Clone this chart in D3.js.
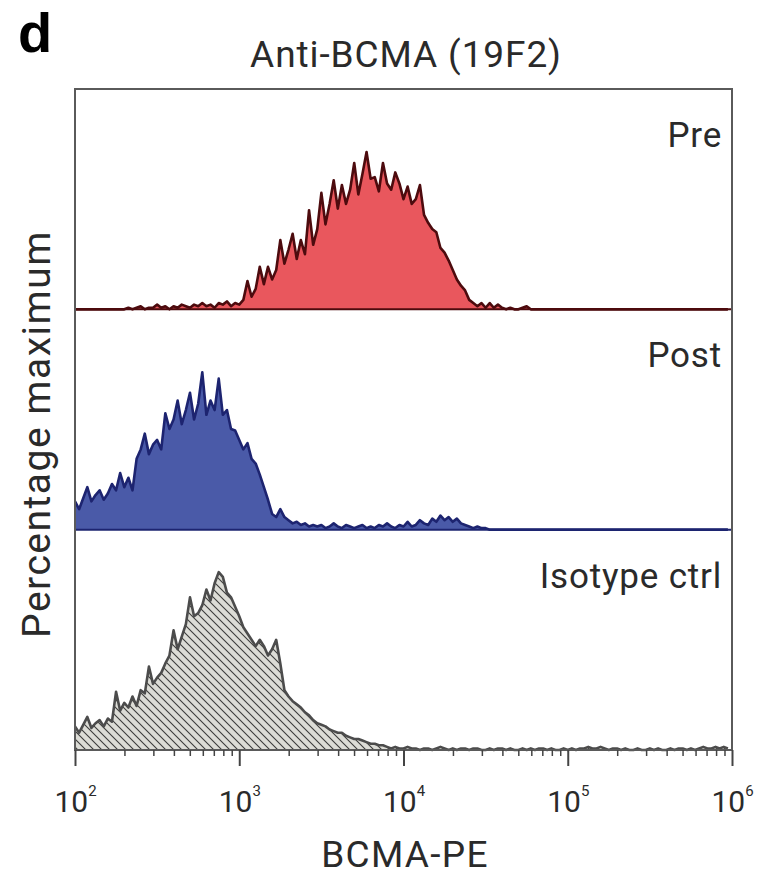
<!DOCTYPE html>
<html>
<head>
<meta charset="utf-8">
<script src="https://cdn.jsdelivr.net/npm/d3@7"></script>
<style>
  body { margin: 0; background: #fff; }
  text { font-family: Roboto, "Liberation Sans", sans-serif; fill: #2a2a2a; }
</style>
</head>
<body>
<div id="container"></div>
<script>
/* CONSTANTS AND GLOBALS */
const width = 762;
const height = 878;
const margin = { top: 89, right: 30, bottom: 128, left: 75 };

/* DATA (percentage of max, bins of 0.025 decade from 10^2) */
const panels = ["Pre", "Post", "Isotype ctrl"];
const xTicks = [1e2, 1e3, 1e4, 1e5, 1e6];
const xTickExp = ["2", "3", "4", "5", "6"];

const preValues = [
  0,0,0,0,0,0,0,0,0,0,0,0,0,
  1,0,1,2,0,1,1,3,1,2,0,2,1,3,2,1,3,2,4,2,3,1,4,3,5,2,4,3,
  6,18,8,13,27,16,27,19,25,44,29,38,48,32,44,35,63,41,51,74,54,67,82,64,79,67,
  76,93,73,86,100,83,84,75,93,80,76,87,80,70,78,67,70,79,60,55,51,49,39,36,31,25,
  19,15,12,6,4,2,4,1,4,1,3,1,0,1,0,0,1,2,
  0,0,0,0,0,0,0,0,0,0,0,0,0,0,0,0,0,0,0,0,0,0,0,0,0,
  0,0,0,0,0,0,0,0,0,0,0,0,0,0,0,0,0,0,0,0,0,0,0,0
];

const postValues = [
  18,13,20,27,18,22,25,19,23,29,25,36,27,33,25,45,51,61,48,54,57,51,74,64,70,82,
  67,76,87,70,80,100,73,82,76,96,73,76,64,63,57,51,55,45,42,35,27,19,10,8,13,8,
  6,4,5,3,4,2,3,
  2,3,1,2,4,2,1,3,2,1,2,3,1,2,1,3,2,4,2,1,3,2,5,2,3,6,4,3,7,5,9,6,8,5,7,4,3,2,1,2,1,1,0,
  0,0,0,0,0,0,0,0,0,0,0,0,0,0,0,0,0,0,0,0,0,0,0,0,0,0,0,0,0,
  0,0,0,0,0,0,0,0,0,0,0,0,0,0,0,0,0,0,0,0,0,0,0,0,0,0,0,0,0
];

const isoValues = [
  15,11,16,21,14,17,19,15,20,18,37,25,30,27,34,28,38,36,53,42,46,49,55,60,76,64,
  72,80,97,85,87,92,102,95,106,113,110,100,97,91,85,78,74,70,66,70,66,60,64,70,55,
  38,34,31,29,27,24,22,19,17,16,15,13,12,11,11,9,8,7,7,6,5,4,4,3,3,2,
  1,2,1,1,2,1,1,0,1,1,0,1,2,1,0,1,0,1,1,0,
  1,1,0,0,1,0,1,1,0,1, 0,0,1,0,1,0,1,1,0,1,
  0,0,1,0,1,0,1,1,2,1, 1,2,1,0,1,1,0,1,0,0,
  1,0,0,1,0,1,0,0,1,0, 1,1,0,1,0,1,2,1,1,2,
  1,2,1
];

const series = [preValues, postValues, isoValues];
const fills = ["#e9575d", "#4a5aa8", "url(#hatch)"];
const strokes = ["#4d0b0e", "#1d2470", "#4c4c4c"];

// bin positions along the log axis
const binLog = d3.range(160).map(i => 2 + i * 0.025);

/* SCALES */
const xScale = d3.scaleLog()
  .domain([1e2, 1e6])
  .range([margin.left, width - margin.right]);

const panelScale = d3.scaleBand()
  .domain(panels)
  .range([margin.top, height - margin.bottom])
  .padding(0);

/* HTML ELEMENTS */
const svg = d3.select("#container")
  .append("svg")
  .attr("width", width)
  .attr("height", height);

// hatch pattern for isotype
const defs = svg.append("defs");
const pat = defs.append("pattern")
  .attr("id", "hatch")
  .attr("patternUnits", "userSpaceOnUse")
  .attr("width", 8)
  .attr("height", 8);
pat.append("rect").attr("width", 8).attr("height", 8).attr("fill", "#dcdcd6");
pat.append("path")
  .attr("d", "M-2,6 L2,10 M0,0 L8,8 M6,-2 L10,2")
  .attr("stroke", "#3c3c3c")
  .attr("stroke-width", 1.1);

panels.forEach((name, k) => {
  const top = panelScale(name);
  const bottom = top + panelScale.bandwidth();
  const yScale = d3.scaleLinear().domain([0, 140]).range([bottom, top]);
  const pts = series[k].map((v, i) => ({ x: Math.pow(10, binLog[i]), y: v }));

  const area = d3.area()
    .x(d => xScale(d.x))
    .y0(bottom)
    .y1(d => yScale(d.y));
  const line = d3.line()
    .x(d => xScale(d.x))
    .y(d => yScale(d.y));

  svg.append("path")
    .datum(pts)
    .attr("d", area)
    .attr("fill", fills[k]);

  svg.append("path")
    .datum(pts)
    .attr("d", line)
    .attr("fill", "none")
    .attr("stroke", strokes[k])
    .attr("stroke-width", 2.6)
    .attr("stroke-linejoin", "round");

  // panel baseline
  svg.append("line")
    .attr("x1", margin.left).attr("x2", width - margin.right)
    .attr("y1", bottom).attr("y2", bottom)
    .attr("stroke", k < 2 ? strokes[k] : "#555")
    .attr("stroke-width", 2);

  svg.append("text")
    .attr("x", 722)
    .attr("y", top + 58)
    .attr("text-anchor", "end")
    .style("font-size", "35px")
    .style("letter-spacing", "0.8px")
    .text(name);
});

// outer box
svg.append("rect")
  .attr("x", margin.left)
  .attr("y", margin.top)
  .attr("width", width - margin.right - margin.left)
  .attr("height", height - margin.bottom - margin.top)
  .attr("fill", "none")
  .attr("stroke", "#5a5a5a")
  .attr("stroke-width", 2);

// X-Axis minor ticks
const minor = [];
[1e2, 1e3, 1e4, 1e5].forEach(d => { for (let m = 2; m <= 9; m++) minor.push(d * m); });
svg.append("g")
  .attr("class", "x-axis-minor")
  .attr("transform", `translate(0,${height - margin.bottom})`)
  .call(d3.axisBottom(xScale).tickValues(minor).tickSize(6).tickFormat(""))
  .call(g => g.select(".domain").remove())
  .call(g => g.selectAll("line").attr("stroke", "#444").attr("stroke-width", 1.5));

// X-Axis major ticks
const xAxis = svg.append("g")
  .attr("class", "x-axis")
  .attr("transform", `translate(0,${height - margin.bottom})`)
  .call(d3.axisBottom(xScale).tickValues(xTicks).tickSize(16).tickFormat(""))
  .call(g => g.select(".domain").remove())
  .call(g => g.selectAll("line").attr("stroke", "#444").attr("stroke-width", 2));

xAxis.selectAll(".tick").each(function(d, i) {
  const t = d3.select(this).append("text")
    .attr("y", 62)
    .attr("text-anchor", "middle")
    .style("font-size", "30px");
  t.append("tspan").text("10");
  t.append("tspan").attr("dy", -16).style("font-size", "15px").text(xTickExp[i]);
});

// X-Axis label
svg.append("text")
  .attr("x", 405)
  .attr("y", 867)
  .attr("text-anchor", "middle")
  .style("font-size", "37px")
  .style("letter-spacing", "1.3px")
  .text("BCMA-PE");

// Y-Axis label
svg.append("text")
  .attr("transform", "translate(50,434) rotate(-90)")
  .attr("text-anchor", "middle")
  .style("font-size", "39px")
  .style("letter-spacing", "1.5px")
  .text("Percentage maximum");

// title
svg.append("text")
  .attr("x", 406)
  .attr("y", 67)
  .attr("text-anchor", "middle")
  .style("font-size", "37px")
  .style("letter-spacing", "0.9px")
  .text("Anti-BCMA (19F2)");

// panel letter
svg.append("text")
  .attr("x", 18)
  .attr("y", 52)
  .style("font-family", "'Liberation Sans', Arial, sans-serif")
  .style("font-weight", "bold")
  .style("font-size", "56px")
  .style("fill", "#000")
  .text("d");
</script>
</body>
</html>
